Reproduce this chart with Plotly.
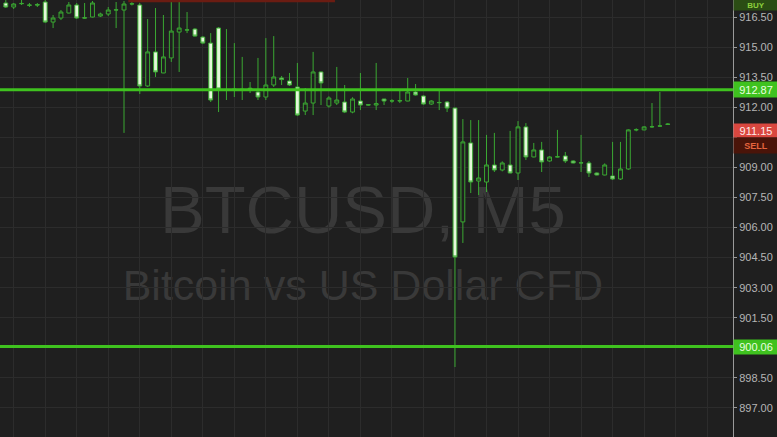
import plotly.graph_objects as go

# ---------------- data ----------------
candle_idx = list(range(85))
open_ = [917.20, 917.00, 917.18, 917.10, 917.12, 917.25, 916.25, 916.45, 916.70, 917.10,
         916.46, 916.50, 916.55, 916.65, 916.85, 916.85, 917.15, 917.10, 913.06, 914.76,
         913.71, 914.46, 915.75, 915.85, 915.90, 915.50, 915.20, 915.95, 912.88, 912.86,
         912.90, 912.95, 912.76, 912.51, 913.11, 913.46, 913.31, 913.01, 911.81, 912.21,
         913.76, 912.06, 912.21, 912.26, 911.76, 912.31, 912.13, 912.11, 912.41, 912.31,
         912.31, 912.31, 912.76, 912.56, 912.16, 912.24, 912.26, 911.96, 906.28, 910.22,
         908.32, 908.27, 909.12, 908.87, 909.12, 908.72, 911.02, 909.52, 909.87, 909.32,
         909.52, 909.57, 909.32, 909.22, 909.22, 908.72, 908.62, 908.57, 908.42, 908.92,
         910.87, 910.87, 911.02, 911.07, 911.16]
high_ = [917.40, 917.20, 917.40, 917.20, 917.20, 917.40, 916.60, 916.85, 917.25, 917.20,
         917.20, 917.30, 916.72, 917.00, 917.25, 917.30, 917.30, 917.20, 916.40, 916.95,
         916.60, 917.25, 917.25, 916.75, 915.95, 915.55, 915.70, 916.00, 915.90, 915.20,
         914.51, 913.26, 914.46, 915.45, 915.55, 913.56, 913.71, 914.21, 912.96, 914.76,
         913.78, 912.55, 914.01, 913.11, 912.50, 913.71, 912.16, 914.21, 912.42, 912.40,
         912.86, 913.46, 913.16, 912.60, 912.35, 912.86, 912.31, 911.98, 911.41, 911.36,
         911.36, 910.62, 910.72, 909.30, 910.82, 911.31, 911.21, 910.22, 910.27, 909.56,
         910.87, 909.77, 909.35, 910.62, 909.32, 908.75, 909.20, 910.27, 910.27, 910.90,
         910.95, 911.05, 912.21, 912.76, 911.20]
low_ = [916.95, 916.90, 917.10, 917.00, 917.00, 916.20, 915.95, 916.35, 916.68, 916.40,
        916.42, 916.48, 916.50, 916.55, 915.95, 910.72, 917.08, 912.66, 913.01, 913.51,
        913.70, 914.26, 913.76, 915.70, 915.52, 915.15, 912.26, 911.76, 912.36, 912.51,
        912.36, 912.71, 912.36, 912.36, 913.01, 913.11, 913.06, 911.56, 911.61, 911.61,
        912.11, 911.98, 912.11, 911.71, 911.70, 911.86, 912.08, 911.86, 912.11, 912.22,
        912.21, 912.30, 912.58, 912.12, 912.12, 911.86, 911.76, 899.04, 905.23, 907.72,
        907.62, 907.77, 908.77, 908.80, 908.70, 908.37, 909.37, 909.50, 908.77, 909.28,
        909.50, 909.22, 909.20, 908.77, 908.52, 908.60, 908.60, 908.37, 908.37, 908.88,
        910.80, 910.85, 910.97, 911.02, 911.12]
close_ = [917.00, 917.15, 917.17, 917.09, 917.10, 916.25, 916.45, 916.75, 917.10, 916.45,
          916.45, 917.20, 916.65, 916.85, 916.86, 917.15, 917.16, 913.06, 914.76, 913.76,
          914.51, 915.80, 915.95, 915.86, 915.55, 915.20, 912.36, 912.91, 912.84, 912.90,
          912.86, 912.90, 912.51, 913.11, 913.51, 913.38, 913.11, 911.61, 912.21, 913.76,
          913.21, 912.46, 912.36, 911.76, 912.41, 912.11, 912.11, 912.18, 912.31, 912.32,
          912.33, 912.76, 912.61, 912.16, 912.31, 912.23, 911.96, 904.53, 910.27, 908.27,
          908.47, 909.12, 908.87, 909.22, 908.72, 911.02, 909.52, 909.87, 909.27, 909.52,
          909.53, 909.32, 909.22, 909.23, 908.72, 908.62, 909.12, 908.42, 908.92, 910.87,
          910.88, 911.02, 911.03, 911.06, 911.15]

tick_values = [916.5, 915.0, 913.5, 912.0, 910.5, 909.0, 907.5, 906.0, 904.5, 903.0,
               901.5, 900.0, 898.5, 897.0, 895.5]
tick_labels = ["916.50", "915.00", "913.50", "912.00", "", "909.00", "907.50", "906.00",
               "904.50", "903.00", "901.50", "", "898.50", "897.00", "895.50"]

level_lines = [912.87, 900.06]
level_texts = ["912.87", "900.06"]
bid_text = "911.15"
symbol_title = "BTCUSD, M5"
symbol_desc = "Bitcoin vs US Dollar CFD"

# ---------------- style ----------------
BG = "#1f1f1f"
GRID = "#2c2c2c"
CANDLE_LINE = "#3aa832"
BRIGHT = "#3fc21f"
FONT = "Liberation Sans, Arial, sans-serif"

fig = go.Figure()
fig.add_trace(go.Candlestick(
    x=candle_idx, open=open_, high=high_, low=low_, close=close_,
    increasing=dict(line=dict(color=CANDLE_LINE, width=1), fillcolor=BG),
    decreasing=dict(line=dict(color=CANDLE_LINE, width=1), fillcolor="#e4f8da"),
    whiskerwidth=0, showlegend=False, hoverinfo="skip",
))

shapes = []
# watermark (behind candles)
shapes.append(dict(type="rect", xref="paper", yref="paper", x0=0.0, x1=0.99,
                   y0=0.435, y1=0.635, line=dict(width=0), fillcolor="rgba(0,0,0,0)",
                   layer="between",
                   label=dict(text=symbol_title, font=dict(size=67, color="#393939", family=FONT),
                              textposition="middle center")))
shapes.append(dict(type="rect", xref="paper", yref="paper", x0=0.0, x1=0.99,
                   y0=0.278, y1=0.438, line=dict(width=0), fillcolor="rgba(0,0,0,0)",
                   layer="between",
                   label=dict(text=symbol_desc, font=dict(size=43, color="#393939", family=FONT),
                              textposition="middle center")))
# level lines
for lv in level_lines:
    shapes.append(dict(type="line", xref="paper", yref="y", x0=0, x1=1, y0=lv, y1=lv,
                       line=dict(color=BRIGHT, width=3), layer="above"))
# thin red strip at top edge
shapes.append(dict(type="rect", xref="paper", yref="paper", x0=0.175, x1=0.457,
                   y0=0.995, y1=1.0, line=dict(width=0), fillcolor="#6b1c12", layer="above"))

annotations = []
def label(text, y, yref, bg, fg, size=11, bold=False, h=14):
    annotations.append(dict(
        text=("<b>%s</b>" % text) if bold else text,
        xref="paper", x=1.0, xanchor="left", yref=yref, y=y, yanchor="middle",
        showarrow=False, bgcolor=bg, width=44, height=h, borderpad=0,
        font=dict(size=size, color=fg, family=FONT), align="center"))

label("BUY", 1 - 5.0 / 437, "paper", "#2b4d14", "#8ccf3c", size=8, bold=True, h=10)
label(level_texts[0], level_lines[0], "y", BRIGHT, "#eaffe0", h=15)
label(bid_text, 1 - 130.5 / 437, "paper", "#d9473f", "#ffecec", h=13)
label("SELL", 1 - 145.5 / 437, "paper", "#4a1409", "#e5643e", size=9, bold=True, h=15)
label(level_texts[1], level_lines[1], "y", BRIGHT, "#eaffe0", h=14)

fig.update_layout(
    width=777, height=437,
    margin=dict(l=0, r=44, t=0, b=0),
    paper_bgcolor=BG, plot_bgcolor=BG,
    shapes=shapes, annotations=annotations,
    xaxis=dict(range=[-0.736, 92.28], rangeslider=dict(visible=False),
               tickvals=list(range(1, 93, 4)), showticklabels=False, ticks="",
               showgrid=True, gridcolor=GRID, gridwidth=1, zeroline=False, showline=False),
    yaxis=dict(range=[895.55, 917.35], side="right", tickvals=tick_values, ticktext=tick_labels,
               ticks="outside", ticklen=3, tickcolor="#9a9a9a",
               showline=True, linecolor="#9a9a9a", linewidth=1,
               showgrid=True, gridcolor=GRID, gridwidth=1, zeroline=False,
               tickfont=dict(size=11, color="#b5b5b5", family=FONT)),
    hovermode=False,
)

fig.write_html(
    "out.html",
    config={"displayModeBar": False, "staticPlot": True},
    post_script="document.body.style.margin='0';document.body.style.overflow='hidden';"
                "document.body.style.background='#1f1f1f';",
)
